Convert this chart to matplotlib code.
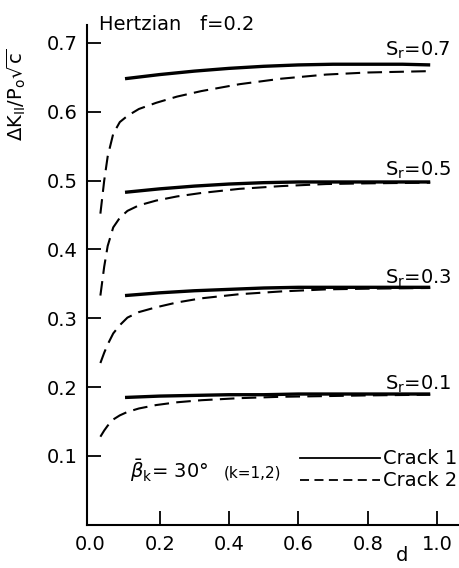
import numpy as np
import matplotlib

matplotlib.use('Agg')
import matplotlib.pyplot as plt

plt.rcParams['font.family'] = ['DejaVu Sans']
plt.rcParams['mathtext.fontset'] = 'dejavusans'

# crack 1 (solid), starts at d = 0.1
d1 = [0.10, 0.20, 0.30, 0.40, 0.50, 0.60, 0.70, 0.80, 0.90, 0.98]
crack1 = {
    0.7: [0.648, 0.654, 0.659, 0.663, 0.666, 0.668, 0.669, 0.669, 0.669, 0.668],
    0.5: [0.483, 0.488, 0.492, 0.495, 0.497, 0.498, 0.498, 0.498, 0.498, 0.498],
    0.3: [0.333, 0.337, 0.340, 0.342, 0.344, 0.345, 0.345, 0.345, 0.345, 0.345],
    0.1: [0.185, 0.187, 0.188, 0.189, 0.189, 0.190, 0.190, 0.190, 0.190, 0.190],
}

# crack 2 (dashed), starts close to d = 0
d2 = [0.029, 0.04, 0.05, 0.066, 0.085, 0.107, 0.14, 0.19, 0.25, 0.32, 0.43, 0.55, 0.68, 0.80, 0.98]
crack2 = {
    0.7: [0.452, 0.500, 0.535, 0.568, 0.585, 0.594, 0.604, 0.613, 0.622, 0.630, 0.640, 0.648, 0.654, 0.657, 0.659],
    0.5: [0.333, 0.375, 0.405, 0.432, 0.446, 0.456, 0.464, 0.471, 0.477, 0.482, 0.488, 0.492, 0.495, 0.496, 0.497],
    0.3: [0.235, 0.250, 0.262, 0.278, 0.290, 0.301, 0.309, 0.316, 0.323, 0.329, 0.335, 0.339, 0.342, 0.343, 0.344],
    0.1: [0.128, 0.137, 0.144, 0.153, 0.159, 0.164, 0.169, 0.174, 0.178, 0.181, 0.184, 0.186, 0.187, 0.188, 0.189],
}

sr_label_y = {0.7: 0.689, 0.5: 0.515, 0.3: 0.358, 0.1: 0.204}

xticks = [0.0, 0.2, 0.4, 0.6, 0.8, 1.0]
yticks = [0.1, 0.2, 0.3, 0.4, 0.5, 0.6, 0.7]

fig = plt.figure(figsize=(4.59, 5.68), dpi=100)
ax = fig.add_axes([0.19, 0.076, 0.81, 0.88])

for sr in [0.7, 0.5, 0.3, 0.1]:
    ax.plot(d1, crack1[sr], color='black', lw=2.4, solid_capstyle='butt')
    ax.plot(d2, crack2[sr], color='black', lw=1.5, dashes=(7, 3.5))
    ax.text(0.85, sr_label_y[sr], r'S$_\mathrm{r}$=%.1f' % sr, fontsize=14, va='center')

ax.set_xlim(-0.009, 1.063)
ax.set_ylim(0, 0.726)
ax.spines['top'].set_visible(False)
ax.spines['right'].set_visible(False)
ax.spines['left'].set_linewidth(1.5)
ax.spines['bottom'].set_linewidth(1.5)

ax.set_xticks(xticks)
ax.set_yticks(yticks)
ax.set_xticklabels(['%.1f' % v for v in xticks])
ax.set_yticklabels(['%.1f' % v for v in yticks])
ax.tick_params(direction='in', length=10, width=1.3, labelsize=14, pad=7)
ax.xaxis.get_major_ticks()[0].tick1line.set_visible(False)

ax.text(0.025, 0.726, 'Hertzian   f=0.2', fontsize=14, va='center', clip_on=False)
fig.text(0.035, 0.833, r'$\Delta \mathrm{K_{II}}/\mathrm{P_o}\sqrt{\mathrm{c}}$', rotation=90,
         fontsize=14, ha='center', va='center')
ax.text(0.90, -0.044, 'd', fontsize=14, ha='center', va='center')

ax.text(0.115, 0.068, r'$\bar{\beta}_\mathrm{k}$= 30$\degree$', fontsize=14)
ax.text(0.385, 0.069, '(k=1,2)', fontsize=11)

# legend drawn by hand
ax.plot([0.605, 0.836], [0.097, 0.097], color='black', lw=1.3)
ax.plot([0.605, 0.836], [0.065, 0.065], color='black', lw=1.3, dashes=(5, 3))
ax.text(0.845, 0.097, 'Crack 1', fontsize=14, va='center')
ax.text(0.845, 0.065, 'Crack 2', fontsize=14, va='center')

plt.savefig('out.png')
